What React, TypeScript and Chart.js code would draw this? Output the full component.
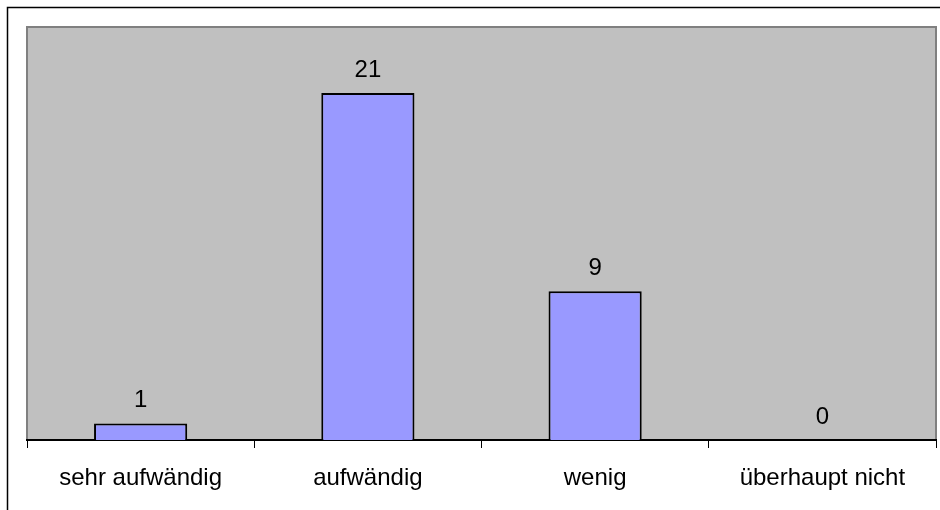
import { useEffect, useRef } from "react";
import { Chart, registerables } from "chart.js";

Chart.register(...registerables);

const categories = ["sehr aufwändig", "aufwändig", "wenig", "überhaupt nicht"];
const counts = [1, 21, 9, 0];
const axisMax = 25;

const FONT = '"Liberation Sans", Arial, Helvetica, sans-serif';

// White page, outer frame and grey plot panel behind the bars
const framePlugin = {
  id: "frame",
  beforeDraw(chart: any) {
    const { ctx, chartArea: a, width, height } = chart;
    ctx.save();
    ctx.fillStyle = "#ffffff";
    ctx.fillRect(0, 0, width, height);
    ctx.strokeStyle = "#000000";
    ctx.lineWidth = 1.5;
    ctx.strokeRect(7.5, 7.5, width + 20, height + 20);
    ctx.fillStyle = "#C0C0C0";
    ctx.fillRect(a.left, a.top, a.right - a.left, a.bottom - a.top);
    ctx.strokeStyle = "#808080";
    ctx.lineWidth = 2;
    ctx.beginPath();
    ctx.moveTo(a.left, a.bottom);
    ctx.lineTo(a.left, a.top);
    ctx.lineTo(a.right, a.top);
    ctx.lineTo(a.right, a.bottom);
    ctx.stroke();
    ctx.restore();
  },
};

// Count written above each bar
const valueLabelPlugin = {
  id: "valueLabels",
  afterDatasetsDraw(chart: any) {
    const { ctx } = chart;
    const meta = chart.getDatasetMeta(0);
    const values = chart.data.datasets[0].data as number[];
    ctx.save();
    ctx.font = `24px ${FONT}`;
    ctx.fillStyle = "#000000";
    ctx.textAlign = "center";
    ctx.textBaseline = "alphabetic";
    meta.data.forEach((bar: any, i: number) => {
      ctx.fillText(String(values[i]), bar.x, bar.y - 16);
    });
    ctx.restore();
  },
};

export default function App() {
  const canvasRef = useRef<HTMLCanvasElement | null>(null);

  useEffect(() => {
    if (!canvasRef.current) return;
    const chart = new Chart(canvasRef.current, {
      type: "bar",
      data: {
        labels: categories,
        datasets: [
          {
            data: counts,
            backgroundColor: "#9999FF",
            borderColor: "#000000",
            borderWidth: 2,
            categoryPercentage: 1,
            barPercentage: 0.41,
          },
        ],
      },
      options: {
        responsive: false,
        animation: false,
        layout: { padding: { left: 27, top: 27, right: 4, bottom: 0 } },
        plugins: {
          legend: { display: false },
          tooltip: { enabled: false },
        },
        scales: {
          y: {
            display: false,
            min: 0,
            max: axisMax,
          },
          x: {
            afterFit: (scale: any) => {
              scale.height = 70;
            },
            border: { display: true, color: "#000000", width: 2 },
            grid: {
              offset: true,
              drawOnChartArea: false,
              drawTicks: true,
              tickLength: 8,
              color: "#000000",
              lineWidth: 1,
            },
            ticks: {
              autoSkip: false,
              maxRotation: 0,
              padding: 16,
              color: "#000000",
              font: { family: FONT, size: 24 },
            },
          },
        },
      },
      plugins: [framePlugin, valueLabelPlugin],
    });
    return () => chart.destroy();
  }, []);

  return (
    <div style={{ position: "absolute", left: 0, top: 0, width: 940, height: 510 }}>
      <canvas ref={canvasRef} width={940} height={510} style={{ display: "block" }} />
    </div>
  );
}
